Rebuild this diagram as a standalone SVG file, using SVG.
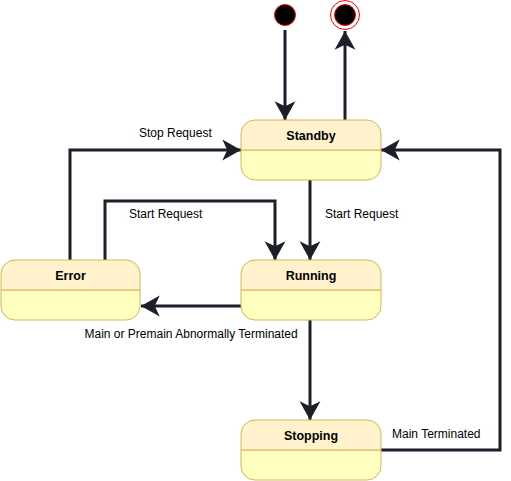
<svg xmlns="http://www.w3.org/2000/svg" width="511" height="481" viewBox="0 0 511 481">
<style>
.hd{fill:#fff2cc;stroke:#d6b656;stroke-width:1}
.bd{fill:#ffffc0;stroke:#d6b656;stroke-width:1}
.nt{font-family:"Liberation Sans",Arial,sans-serif;font-size:12.5px;font-weight:bold;fill:#000;text-anchor:middle;dominant-baseline:central}
.lb{font-family:"Liberation Sans",Arial,sans-serif;font-size:12px;fill:#000;dominant-baseline:central}
.ed{fill:none;stroke:#1b1f29;stroke-width:3;stroke-linejoin:miter}
</style>
<defs>
<marker id="ar" markerUnits="userSpaceOnUse" markerWidth="22" markerHeight="22" viewBox="-18 -10 18 20" refX="0" refY="0" orient="auto">
<path d="M0,0 L-17,-9.5 L-12.5,0 L-17,9.5 Z" fill="#1b1f29"/>
</marker>
</defs>
<g id="initial"><circle cx="285" cy="15" r="10.5" fill="#000" stroke="#ff0000" stroke-width="1"/></g>
<g id="final"><circle cx="345" cy="15" r="14.5" fill="#fff" stroke="#ff0000" stroke-width="1"/><circle cx="345" cy="15" r="10.5" fill="#000" stroke="#ff0000" stroke-width="1"/></g>
<g id="connectors">
<path class="ed" d="M285,30 V120" marker-end="url(#ar)"/>
<path class="ed" d="M345,120 V31" marker-end="url(#ar)"/>
<path class="ed" d="M310,180 V260" marker-end="url(#ar)"/>
<path class="ed" d="M70,260 V150 H241" marker-end="url(#ar)"/>
<path class="ed" d="M105,260 V201 H275 V260" marker-end="url(#ar)"/>
<path class="ed" d="M241,306 H141" marker-end="url(#ar)"/>
<path class="ed" d="M310,320 V420" marker-end="url(#ar)"/>
<path class="ed" d="M381,450 H500 V150 H381" marker-end="url(#ar)"/>
</g>
<g id="labels">
<text class="lb" x="139" y="133">Stop Request</text>
<text class="lb" x="129" y="214">Start Request</text>
<text class="lb" x="325" y="214">Start Request</text>
<text class="lb" x="84.5" y="334">Main or Premain Abnormally Terminated</text>
<text class="lb" x="392" y="434">Main Terminated</text>
</g>
<g id="standby">
<path class="bd" d="M241,150 H381 V166 A14,14 0 0 1 367,180 H255 A14,14 0 0 1 241,166 Z"/>
<path class="hd" d="M241,150 V134 A14,14 0 0 1 255,120 H367 A14,14 0 0 1 381,134 V150 Z"/>
<text class="nt" x="311" y="136">Standby</text>
</g>
<g id="error">
<path class="bd" d="M1,290 H140 V306 A14,14 0 0 1 126,320 H15 A14,14 0 0 1 1,306 Z"/>
<path class="hd" d="M1,290 V274 A14,14 0 0 1 15,260 H126 A14,14 0 0 1 140,274 V290 Z"/>
<text class="nt" x="70.5" y="276">Error</text>
</g>
<g id="running">
<path class="bd" d="M241,290 H381 V306 A14,14 0 0 1 367,320 H255 A14,14 0 0 1 241,306 Z"/>
<path class="hd" d="M241,290 V274 A14,14 0 0 1 255,260 H367 A14,14 0 0 1 381,274 V290 Z"/>
<text class="nt" x="311" y="276">Running</text>
</g>
<g id="stopping">
<path class="bd" d="M241,450 H381 V466 A14,14 0 0 1 367,480 H255 A14,14 0 0 1 241,466 Z"/>
<path class="hd" d="M241,450 V434 A14,14 0 0 1 255,420 H367 A14,14 0 0 1 381,434 V450 Z"/>
<text class="nt" x="311" y="436">Stopping</text>
</g>
</svg>
